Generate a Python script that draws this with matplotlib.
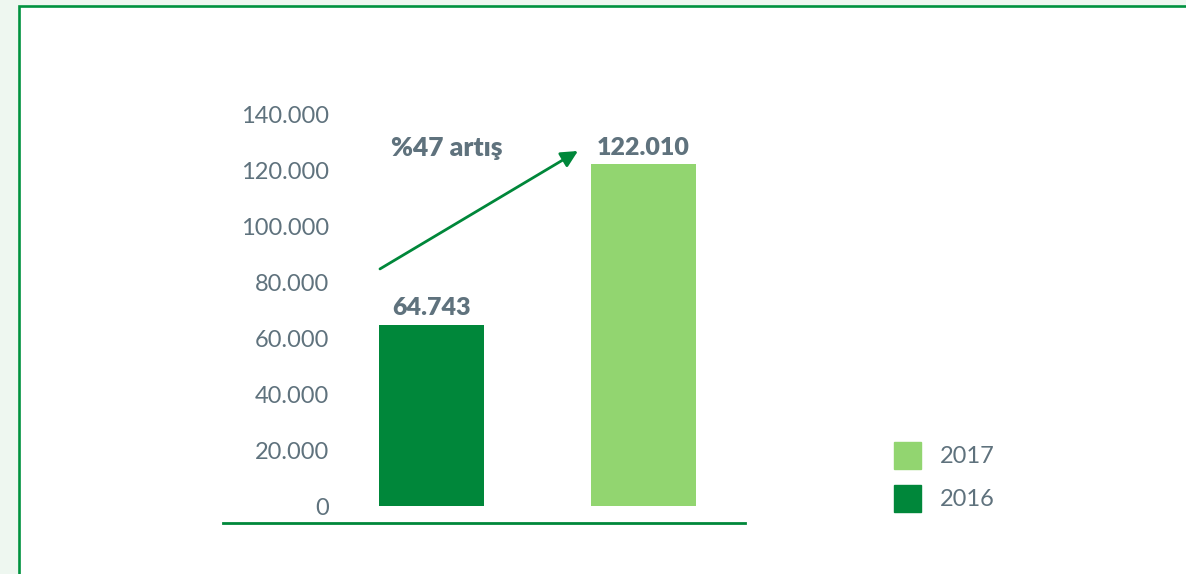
import matplotlib.pyplot as plt
from matplotlib.patches import Rectangle, Patch

# data
years = ['2016', '2017']
values = [64743, 122010]
colors = ['#00873a', '#92d570']
yticks = [0, 20000, 40000, 60000, 80000, 100000, 120000, 140000]
note = '%47 artış'

txt = '#5f727d'
W, H = 1186, 574

def tr(v):
    # turkish thousands separator
    return '{:,}'.format(v).replace(',', '.')

plt.rcParams['font.family'] = ['Lato', 'DejaVu Sans']

fig = plt.figure(figsize=(W / 100, H / 100), dpi=100)
fig.patch.set_facecolor('#eef7f0')

# white panel with green frame
fig.patches.append(Rectangle((19 / W, -0.2), 1.2, 1.2 - 6 / H,
                             transform=fig.transFigure, facecolor='white',
                             edgecolor='#00923f', linewidth=1.9, zorder=-1))

left, right, bottom, top = 340, 745, 523, 100
ax = fig.add_axes([left / W, 1 - bottom / H, (right - left) / W, (bottom - top) / H])
ax.set_zorder(2)
ax.patch.set_alpha(0)

x = [0, 1]
bars = ax.bar(x, values, width=0.495, color=colors)
ax.bar_label(bars, labels=[tr(v) for v in values], padding=4,
             fontsize=18, fontweight='heavy', color=txt)

ax.set_xlim(-0.4316, 1.479)
ax.set_ylim(-6000, 145000)
ax.set_yticks(yticks)
ax.set_yticklabels([tr(v) for v in yticks], fontsize=17, color=txt)
ax.tick_params(axis='y', length=0, pad=8)
ax.set_xticks([])
for s in ax.spines.values():
    s.set_visible(False)

# baseline
ax.axhline(-6000, xmin=(223 - left) / (right - left), xmax=1, color='#00873a',
           linewidth=2, clip_on=False)

# growth arrow
ax.annotate('', xy=(0.691, 126800), xytext=(-0.243, 84700),
            arrowprops=dict(arrowstyle='-|>', color='#00873a', lw=2,
                            mutation_scale=25, shrinkA=0, shrinkB=0))
ax.text(0.073, 127900, note, ha='center', va='center', fontsize=19,
        fontweight='heavy', color=txt)

handles = [Patch(color=colors[1], label=years[1]),
           Patch(color=colors[0], label=years[0])]
leg = fig.legend(handles=handles, loc='upper left', bbox_to_anchor=(873 / W, 1 - 421 / H),
                 frameon=False, fontsize=17, labelcolor=txt, handlelength=1.15,
                 handleheight=1.35, handletextpad=0.8, labelspacing=0.7)
leg.set_zorder(3)

fig.savefig('out.png', dpi=100, facecolor=fig.get_facecolor())
